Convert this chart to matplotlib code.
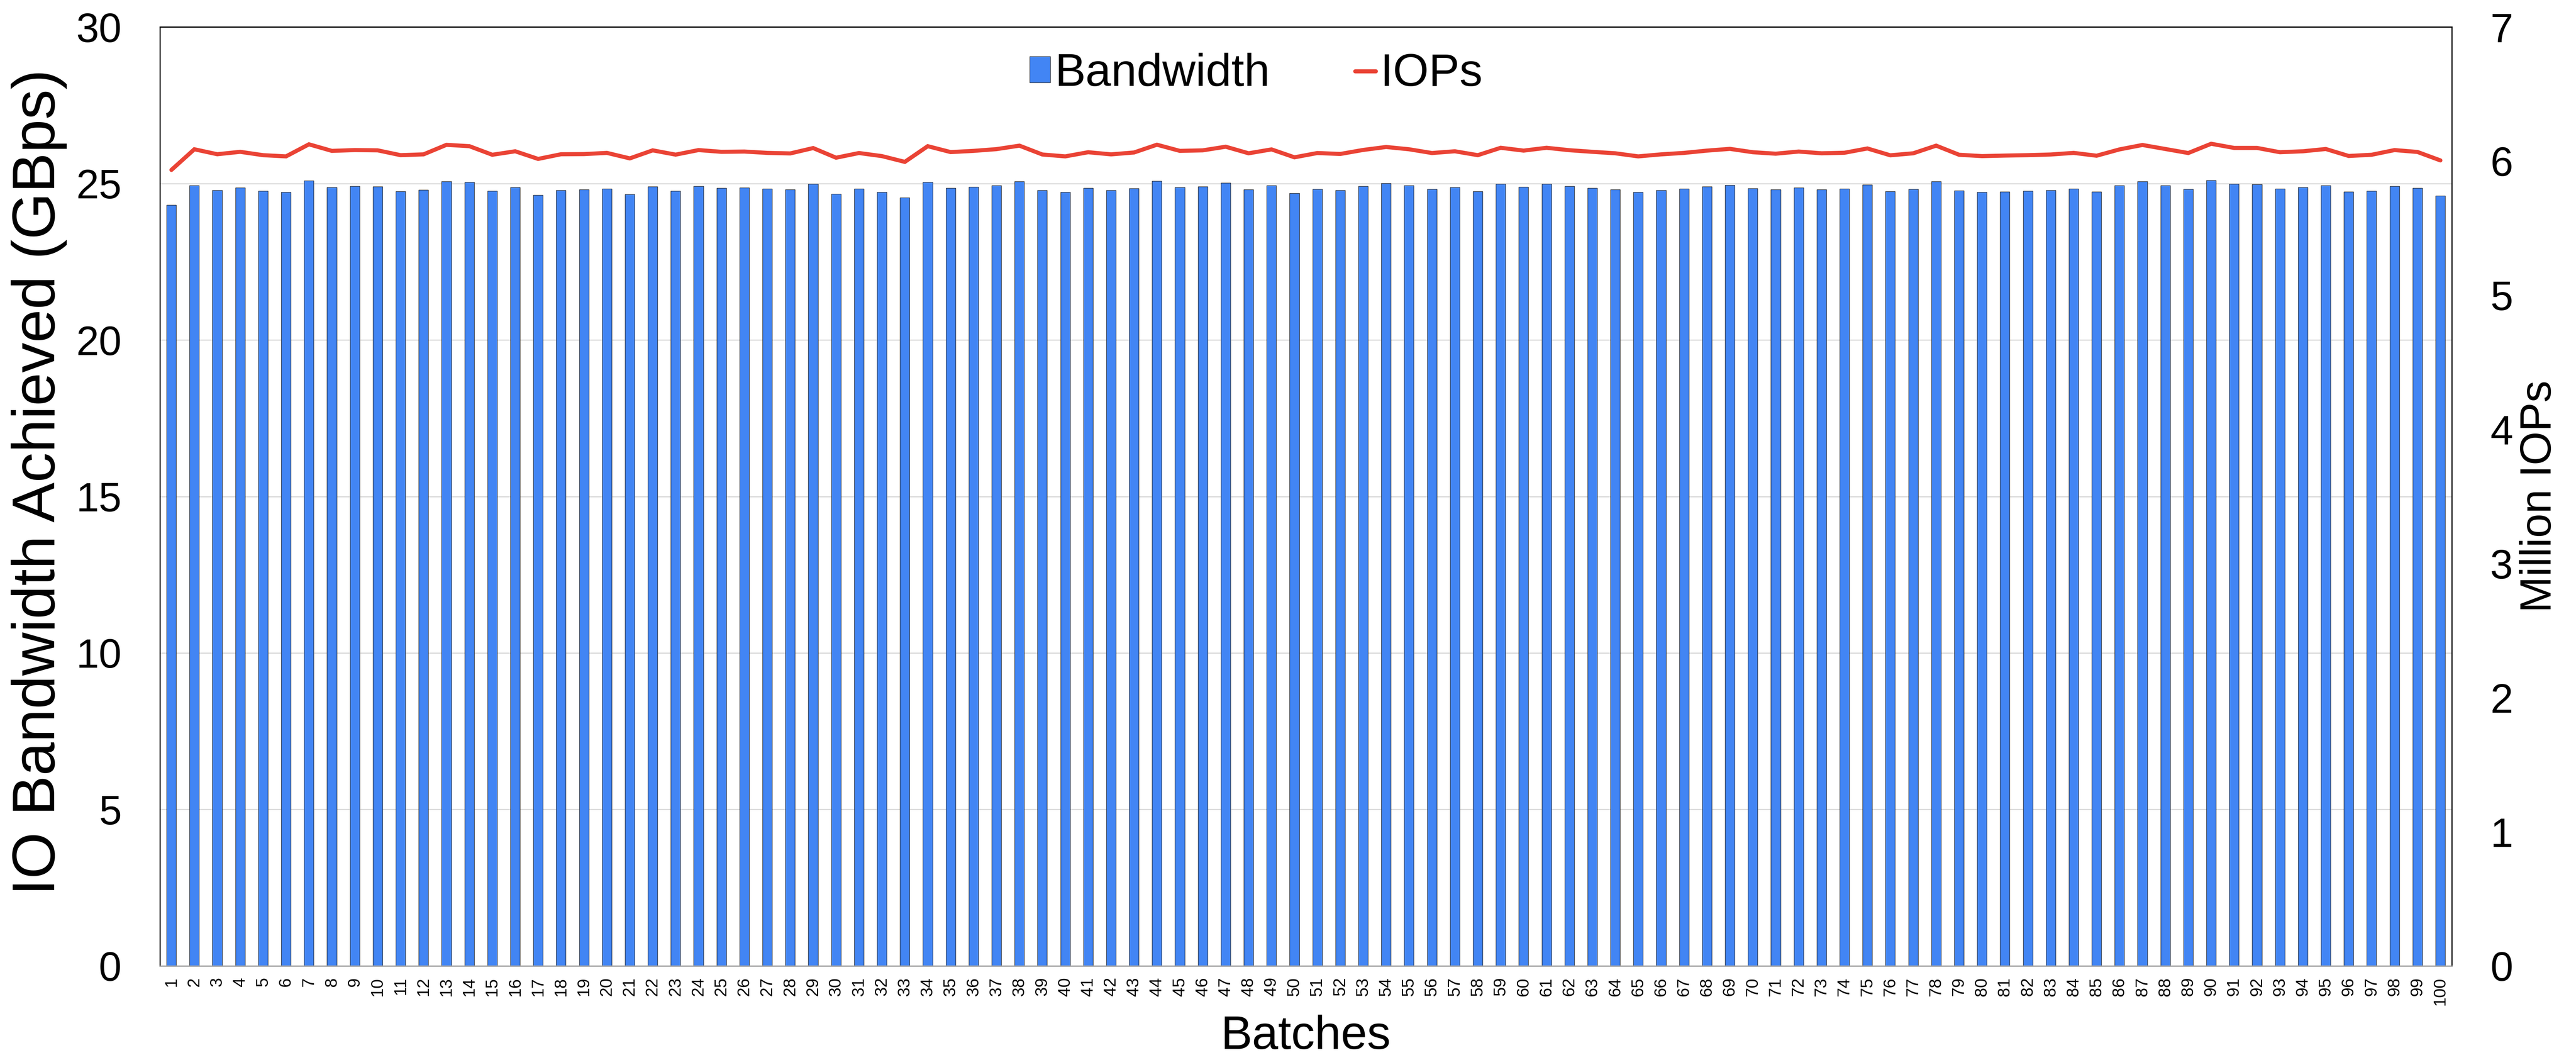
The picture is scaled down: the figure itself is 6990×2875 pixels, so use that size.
import matplotlib
matplotlib.use("Agg")
import matplotlib.pyplot as plt
from matplotlib.patches import Patch
from matplotlib.lines import Line2D

plt.rcParams['font.family'] = ['Liberation Sans', 'DejaVu Sans']

# batch numbers 1..100
batches = list(range(1, 101))

# IO bandwidth per batch (GBps), left axis
bandwidth = [
    24.31, 24.93, 24.78, 24.86, 24.76, 24.72, 25.09, 24.88, 24.91, 24.90,
    24.75, 24.79, 25.07, 25.04, 24.76, 24.88, 24.63, 24.78, 24.80, 24.83,
    24.65, 24.90, 24.76, 24.91, 24.85, 24.87, 24.83, 24.81, 24.98, 24.67,
    24.83, 24.72, 24.55, 25.04, 24.85, 24.89, 24.94, 25.06, 24.78, 24.72,
    24.85, 24.78, 24.84, 25.08, 24.88, 24.90, 25.02, 24.81, 24.93, 24.69,
    24.82, 24.78, 24.91, 25.01, 24.93, 24.82, 24.88, 24.75, 24.98, 24.89,
    24.98, 24.91, 24.85, 24.81, 24.72, 24.78, 24.83, 24.90, 24.95, 24.84,
    24.80, 24.87, 24.81, 24.83, 24.96, 24.75, 24.82, 25.06, 24.77, 24.72,
    24.74, 24.76, 24.78, 24.83, 24.74, 24.93, 25.07, 24.94, 24.82, 25.10,
    24.98, 24.97, 24.83, 24.88, 24.94, 24.73, 24.76, 24.91, 24.85, 24.60,
]

# million IOPs per batch, right axis
iops = [
    5.934, 6.088, 6.051, 6.069, 6.044, 6.035, 6.125, 6.076, 6.082, 6.080,
    6.044, 6.050, 6.121, 6.111, 6.047, 6.073, 6.016, 6.051, 6.052, 6.061,
    6.020, 6.080, 6.048, 6.082, 6.069, 6.071, 6.061, 6.057, 6.097, 6.025,
    6.060, 6.037, 5.994, 6.111, 6.067, 6.076, 6.089, 6.115, 6.049, 6.035,
    6.066, 6.050, 6.064, 6.122, 6.076, 6.080, 6.107, 6.058, 6.087, 6.028,
    6.060, 6.053, 6.083, 6.105, 6.088, 6.060, 6.073, 6.044, 6.099, 6.078,
    6.099, 6.081, 6.069, 6.058, 6.035, 6.050, 6.061, 6.078, 6.091, 6.066,
    6.055, 6.071, 6.058, 6.062, 6.094, 6.043, 6.058, 6.115, 6.047, 6.037,
    6.041, 6.044, 6.049, 6.061, 6.040, 6.087, 6.120, 6.090, 6.060, 6.129,
    6.098, 6.098, 6.066, 6.073, 6.090, 6.038, 6.047, 6.082, 6.068, 6.005,
]

left_ticks = [0, 5, 10, 15, 20, 25, 30]
right_ticks = [0, 1, 2, 3, 4, 5, 6, 7]

BLUE = '#4285F4'
RED = '#EA4335'

fig, ax = plt.subplots(figsize=(69.9, 28.75), dpi=100)
fig.subplots_adjust(left=0.0621, right=0.9518, top=0.9746, bottom=0.0887)

# bars for bandwidth
ax.set_axisbelow(True)
ax.yaxis.grid(True, color='#d9d9d9', linewidth=2.2)
ax.bar(batches, bandwidth, width=0.42, color=BLUE, edgecolor='#2b2b2b', linewidth=1.0)
ax.set_xlim(0.5, 100.5)
ax.set_ylim(0, 30)
ax.set_yticks(left_ticks)
ax.set_xticks(batches)
ax.set_xticklabels([str(b) for b in batches], rotation=90, fontsize=33)
ax.tick_params(axis='x', length=0, pad=22)
ax.tick_params(axis='y', length=0, pad=75, labelsize=80)

ax.set_xlabel('Batches', fontsize=92)
ax.xaxis.set_label_coords(0.5, -0.0754)
ax.xaxis.label.set_va('center')
ax.set_ylabel('IO Bandwidth Achieved (GBps)', fontsize=117)
ax.yaxis.set_label_coords(-0.0527, 0.515)
ax.yaxis.label.set_va('center')

# line for IOPs on the right axis
ax2 = ax.twinx()
ax2.plot(batches, iops, color=RED, linewidth=8, solid_capstyle='round', solid_joinstyle='miter')
ax2.set_ylim(0, 7)
ax2.set_yticks(right_ticks)
ax2.tick_params(axis='y', length=0, pad=75, labelsize=80)
ax2.set_ylabel('Million IOPs', fontsize=85)
ax2.yaxis.set_label_coords(1.0384, 0.5)
ax2.yaxis.label.set_va('center')

for a in (ax, ax2):
    for side in ('left', 'right', 'top'):
        a.spines[side].set_color('black')
        a.spines[side].set_linewidth(2.2)
    a.spines['bottom'].set_color('#a6a6a6')
    a.spines['bottom'].set_linewidth(2.5)

handles = [
    Patch(facecolor=BLUE, edgecolor='#2b2b2b', linewidth=1.0, label='Bandwidth'),
    Line2D([0], [0], color=RED, linewidth=8, solid_capstyle='round', label='IOPs'),
]
ax2.legend(handles=handles, loc='center', bbox_to_anchor=(0.4783, 0.9498), ncol=2,
           frameon=False, fontsize=90, handlelength=0.45, handleheight=0.5,
           handletextpad=0.1, columnspacing=1.85)

fig.savefig('out.png', dpi=100)
